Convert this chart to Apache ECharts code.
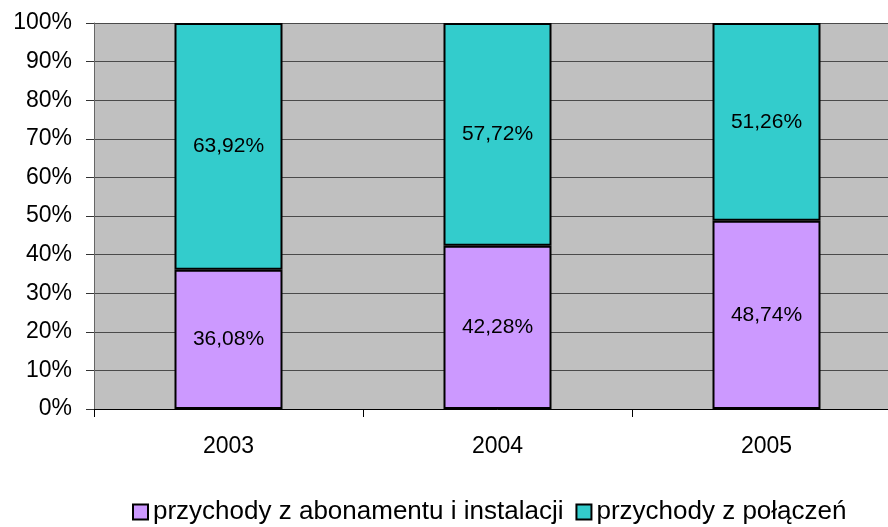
<!DOCTYPE html>
<html>
<head>
<meta charset="utf-8">
<script src="https://cdn.jsdelivr.net/npm/echarts@6/dist/echarts.min.js"></script>
<style>
  html, body { margin: 0; padding: 0; background: #fff; overflow: hidden; }
  #wrap { width: 888px; height: 527px; overflow: hidden; }
  #chart { width: 901px; height: 527px; }
</style>
</head>
<body>
<div id="wrap"><div id="chart"></div></div>
<script>
let years = ['2003', '2004', '2005'];
let abonament = [36.08, 42.28, 48.74];
let polaczenia = [63.92, 57.72, 51.26];
let seriesNames = ['przychody z abonamentu i instalacji', 'przychody z połączeń'];

let chart = echarts.init(document.getElementById('chart'));

function pct(p) {
    return p.value.toFixed(2).replace('.', ',') + '%';
}

let labelStyle = {
    show: true,
    position: 'inside',
    color: '#000',
    fontFamily: 'Liberation Sans, Arial, sans-serif',
    fontSize: 21,
    formatter: pct
};

let options = {
    backgroundColor: '#fff',
    animation: false,
    textStyle: { fontFamily: 'Liberation Sans, Arial, sans-serif' },
    grid: {
        left: 94,
        right: 0,
        top: 23,
        height: 386,
        show: true,
        backgroundColor: '#c0c0c0',
        borderWidth: 0
    },
    legend: {
        top: 494,
        left: 127,
        itemWidth: 15,
        itemHeight: 15,
        itemGap: 12,
        icon: 'rect',
        textStyle: { fontSize: 26, color: '#000' },
        data: seriesNames
    },
    xAxis: {
        type: 'category',
        data: years,
        axisLine: { show: true, lineStyle: { color: '#000', width: 1 } },
        axisTick: { show: true, length: 8, lineStyle: { color: '#000' } },
        axisLabel: { fontSize: 23, color: '#000', margin: 26 }
    },
    yAxis: {
        type: 'value',
        min: 0,
        max: 100,
        interval: 10,
        axisLine: { show: true, lineStyle: { color: '#666', width: 1 } },
        axisTick: { show: true, length: 8, lineStyle: { color: '#333' } },
        axisLabel: { fontSize: 23, color: '#000', margin: 22, formatter: '{value}%' },
        splitLine: { show: true, lineStyle: { color: '#4a4a4a', width: 1 } }
    },
    series: [
        {
            name: seriesNames[0],
            type: 'bar',
            stack: 'total',
            barWidth: 108,
            data: abonament,
            itemStyle: { color: '#cc99ff', borderColor: '#000', borderWidth: 2 },
            label: labelStyle
        },
        {
            name: seriesNames[1],
            type: 'bar',
            stack: 'total',
            barWidth: 108,
            data: polaczenia,
            itemStyle: { color: '#33cccc', borderColor: '#000', borderWidth: 2 },
            label: labelStyle
        }
    ]
};
chart.setOption(options);
</script>
</body>
</html>
